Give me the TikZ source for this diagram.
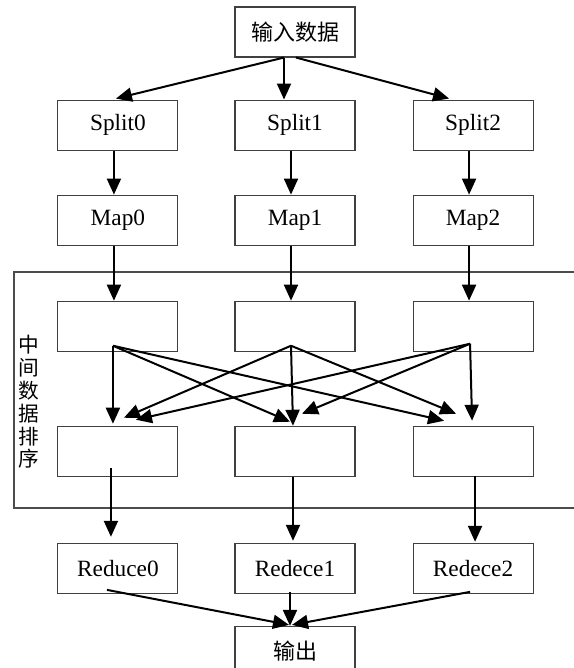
\documentclass[tikz,border=0pt]{standalone}
\usepackage{fontspec}
\setmainfont{Liberation Serif}
\newfontfamily\cjk{Noto Sans CJK SC}
\usetikzlibrary{
    arrows.meta,
    positioning
}
\tikzstyle{box} = [draw=black!75, line width=0.8pt, minimum width=90pt, minimum height=37.5pt, inner sep=0, font=\fontsize{17.5}{20}\selectfont]
\tikzstyle{cbox} = [box, font=\cjk\fontsize{16.5}{20}\selectfont]
\tikzstyle{flow} = [line width=1.5pt, -{Triangle[length=12pt, width=10.5pt]}]
\tikzstyle{frame} = [draw=black!70, line width=1pt]
\tikzstyle{vlabel} = [inner sep=0, align=center, font=\cjk\fontsize{15.5}{17.1}\selectfont]

\begin{document}
\begin{tikzpicture}[x=0.75pt, y=-0.75pt]
    \useasboundingbox (0,0) rectangle (574,668);

    \node[cbox] (in) at (295,32) {输入数据};

    \node[box] (sp1) [below=31.5pt of in]    {Split1};
    \node[box] (sp0) [left=42pt of sp1]      {Split0};
    \node[box] (sp2) [right=42.75pt of sp1]  {Split2};

    \node[box] (mp1) [below=33pt of sp1]     {Map1};
    \node[box] (mp0) [left=42pt of mp1]      {Map0};
    \node[box] (mp2) [right=42.75pt of mp1]  {Map2};

    \node[box] (st1) [below=41.25pt of mp1]  {};
    \node[box] (st0) [left=42pt of st1]      {};
    \node[box] (st2) [right=42.75pt of st1]  {};

    \node[box] (sb1) [below=55.5pt of st1]   {};
    \node[box] (sb0) [left=42pt of sb1]      {};
    \node[box] (sb2) [right=42.75pt of sb1]  {};

    \node[box] (rd1) [below=49.5pt of sb1]   {Redece1};
    \node[box] (rd0) [left=42pt of rd1]      {Reduce0};
    \node[box] (rd2) [right=42.75pt of rd1]  {Redece2};

    \node[cbox] (out) [below=24pt of rd1]    {输出};

    % sorting stage frame and its label
    \draw[frame] (14,272) rectangle (600,508);
    \node[vlabel] (lbl) at (29,402) {中\\间\\数\\据\\排\\序};

    \draw[flow] ([xshift=-8.25pt]in.south) -- ([shift={(-1.5pt,0.75pt)}]sp0.north);
    \draw[flow] ([xshift=-8.25pt]in.south) -- ([xshift=-8.25pt]sp1.north);
    \draw[flow] ([xshift=0.75pt]in.south)  -- ([shift={(-18pt,0.75pt)}]sp2.north);

    \foreach \a / \b in {sp0/mp0, sp1/mp1, sp2/mp2, mp0/st0, mp1/st1, mp2/st2}{
    \draw[flow] ([xshift=-3pt]\a.south) -- ([xshift=-3pt]\b.north);
    }

    \coordinate (src0) at ([shift={(-3.75pt,4.5pt)}]st0.south);
    \coordinate (src1) at ([shift={(-3pt,4.5pt)}]st1.south);
    \coordinate (src2) at ([shift={(-2.25pt,6pt)}]st2.south);

    \foreach \s / \t / \dx / \dy in {src0/sb0/-3.75/1.5, src1/sb0/4.5/6, src2/sb0/13.5/4.5,
                                    src0/sb1/-3.75/3, src1/sb1/-1.5/0, src2/sb1/5.25/9,
                                    src0/sb2/-21.75/3.75, src1/sb2/-12.75/9, src2/sb2/-0.75/3.75}{
    \draw[flow] (\s) -- ([shift={(\dx pt,\dy pt)}]\t.north);
    }

    \draw[flow] ([shift={(-5.25pt,6.75pt)}]sb0.south) -- ([shift={(-5.25pt,4.5pt)}]rd0.north);
    \draw[flow] ([xshift=-1.5pt]sb1.south) -- ([shift={(-1.5pt,1.5pt)}]rd1.north);
    \draw[flow] ([shift={(1.5pt,0.75pt)}]sb2.south) -- ([shift={(1.5pt,0.75pt)}]rd2.north);

    \draw[flow] ([shift={(-8.25pt,3pt)}]rd0.south) -- ([shift={(-4.5pt,0.75pt)}]out.north);
    \draw[flow] ([shift={(-3.75pt,1.5pt)}]rd1.south) -- ([xshift=-3.75pt]out.north);
    \draw[flow] ([shift={(-2.25pt,1.5pt)}]rd2.south) -- ([shift={(-2.25pt,0.75pt)}]out.north);
\end{tikzpicture}
\end{document}
